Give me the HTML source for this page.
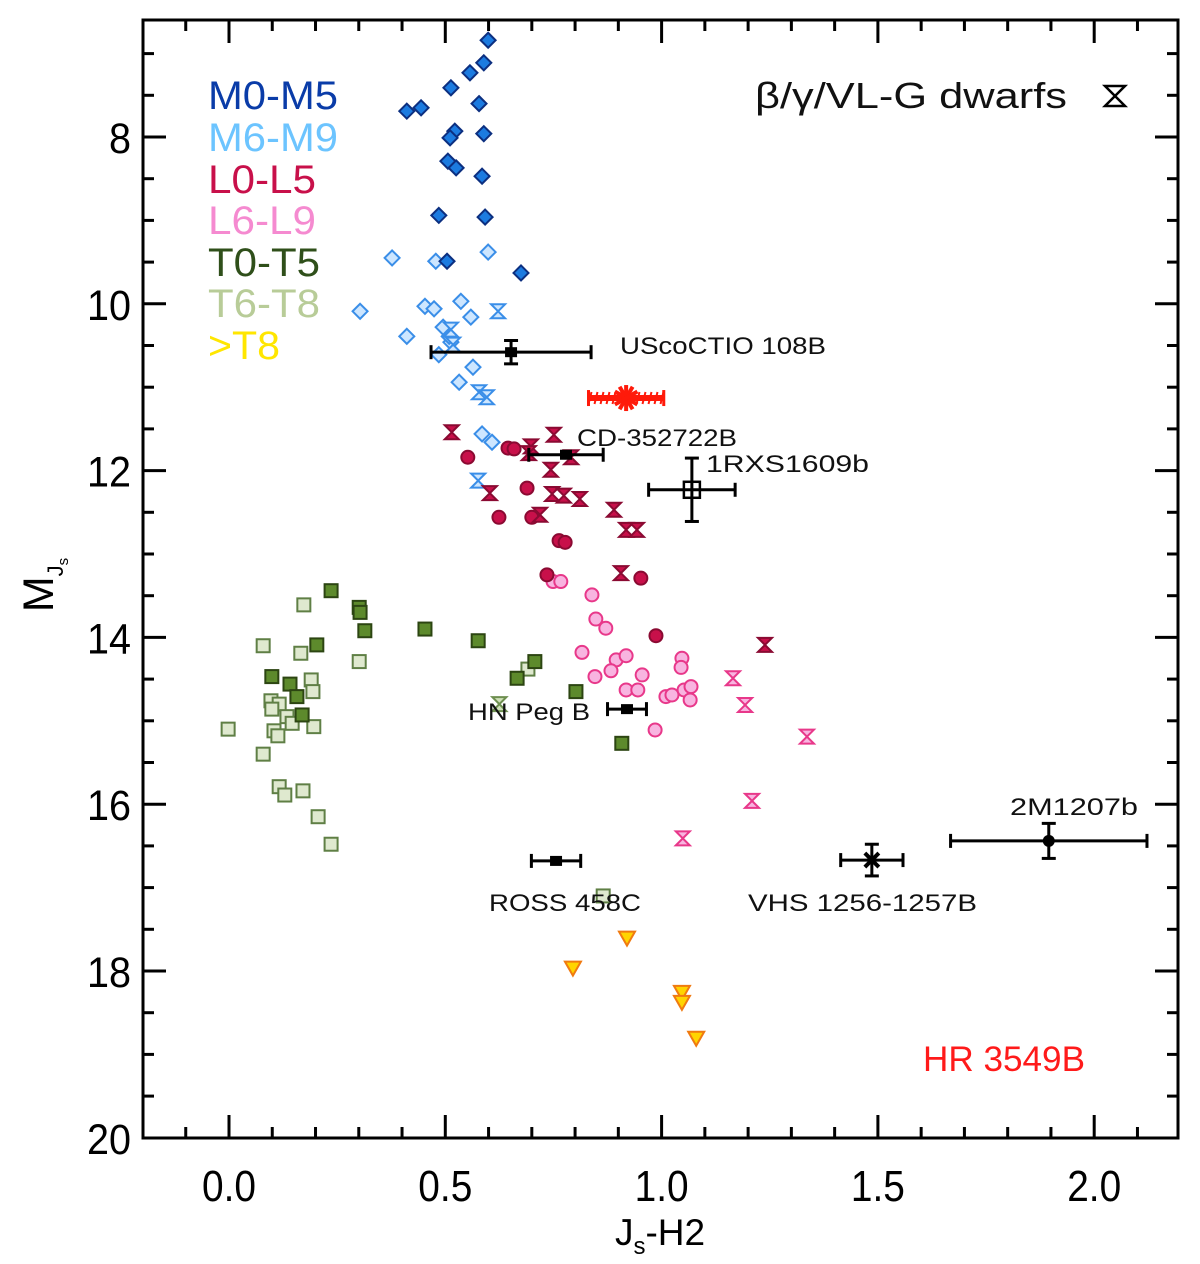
<!DOCTYPE html>
<html><head><meta charset="utf-8">
<style>
html,body{margin:0;padding:0;background:#fff;}
svg{display:block;font-family:"Liberation Sans",Arial,sans-serif;}
</style></head>
<body>
<svg id="chart" width="1200" height="1264" viewBox="0 0 1200 1264" xmlns="http://www.w3.org/2000/svg">
<g id="marks"></g>
<g id="axes"></g>
<g font-size="40" lengthAdjust="spacingAndGlyphs">
  <text x="208" y="109" fill="#0a3ca8" textLength="130" lengthAdjust="spacingAndGlyphs">M0-M5</text>
  <text x="208" y="151" fill="#6cc4ff" textLength="130" lengthAdjust="spacingAndGlyphs">M6-M9</text>
  <text x="208" y="193" fill="#c8104a" textLength="108" lengthAdjust="spacingAndGlyphs">L0-L5</text>
  <text x="208" y="234" fill="#f58ad0" textLength="108" lengthAdjust="spacingAndGlyphs">L6-L9</text>
  <text x="208" y="276" fill="#2f4f1a" textLength="112" lengthAdjust="spacingAndGlyphs">T0-T5</text>
  <text x="208" y="317" fill="#b8cc98" textLength="112" lengthAdjust="spacingAndGlyphs">T6-T8</text>
  <text x="208" y="359" fill="#ffe600" textLength="72" lengthAdjust="spacingAndGlyphs">&gt;T8</text>
  <text x="755" y="108" fill="#111" font-size="36" textLength="312" lengthAdjust="spacingAndGlyphs">β/γ/VL-G dwarfs</text>
  <path d="M1105,86 L1125,86 L1105,106 L1125,106 Z" fill="none" stroke="#000" stroke-width="2.5"/>
</g>
<g font-size="24" fill="#111">
  <text x="620" y="354" textLength="206" lengthAdjust="spacingAndGlyphs">UScoCTIO 108B</text>
  <text x="577" y="446" textLength="160" lengthAdjust="spacingAndGlyphs">CD-352722B</text>
  <text x="706" y="472" textLength="163" lengthAdjust="spacingAndGlyphs">1RXS1609b</text>
  <text x="468" y="720" textLength="122" lengthAdjust="spacingAndGlyphs">HN Peg B</text>
  <text x="1010" y="815" textLength="128" lengthAdjust="spacingAndGlyphs">2M1207b</text>
  <text x="489" y="911" textLength="152" lengthAdjust="spacingAndGlyphs">ROSS 458C</text>
  <text x="748" y="911" textLength="229" lengthAdjust="spacingAndGlyphs">VHS 1256-1257B</text>
  <text x="923" y="1071" font-size="35" fill="#ff1a1a" textLength="162" lengthAdjust="spacingAndGlyphs">HR 3549B</text>
</g>
</svg>
<script>
// ---- data (x = Js-H2, y = M_Js) ----
const m05X=[0.599,0.589,0.557,0.513,0.411,0.444,0.578,0.522,0.511,0.589,0.506,0.525,0.585,0.485,0.592,0.504,0.675];
const m05Y=[6.84,7.11,7.23,7.41,7.69,7.65,7.60,7.93,8.01,7.96,8.29,8.37,8.47,8.94,8.96,9.49,9.63];
const m69X=[0.377,0.478,0.599,0.303,0.453,0.474,0.536,0.559,0.411,0.513,0.509,0.485,0.564,0.532,0.495,0.585,0.608];
const m69Y=[9.45,9.49,9.38,10.09,10.03,10.06,9.97,10.16,10.39,10.46,10.39,10.61,10.76,10.94,10.28,11.56,11.66];
const mYoungX=[0.622,0.513,0.518,0.578,0.596,0.576];
const mYoungY=[10.09,10.31,10.49,11.06,11.12,12.12];
const l05X=[0.552,0.645,0.659,0.689,0.624,0.700,0.763,0.777,0.735,0.952,0.987];
const l05Y=[11.84,11.73,11.74,12.21,12.56,12.56,12.84,12.86,13.25,13.29,13.98];
const l05YoungX=[0.515,0.698,0.751,0.693,0.791,0.744,0.603,0.747,0.774,0.811,0.890,0.719,0.918,0.943,0.906,1.239];
const l05YoungY=[11.54,11.71,11.57,11.79,11.84,11.99,12.27,12.28,12.30,12.34,12.47,12.53,12.71,12.71,13.23,14.09];
const l69X=[0.749,0.767,0.839,0.848,0.871,0.816,0.895,0.918,0.883,0.846,0.955,1.047,1.045,0.918,0.945,1.010,1.024,1.052,1.068,1.066,0.985];
const l69Y=[13.33,13.33,13.49,13.78,13.89,14.18,14.27,14.22,14.40,14.47,14.45,14.25,14.36,14.63,14.63,14.71,14.69,14.63,14.59,14.75,15.11];
const l69YoungX=[1.165,1.193,1.336,1.209,1.049];
const l69YoungY=[14.49,14.81,15.19,15.96,16.41];
const t05X=[0.236,0.301,0.303,0.314,0.203,0.099,0.141,0.157,0.169,0.453,0.576,0.707,0.666,0.802,0.908];
const t05Y=[13.44,13.64,13.70,13.92,14.09,14.47,14.56,14.71,14.93,13.90,14.04,14.29,14.49,14.65,15.27];
const t68X=[0.173,0.079,0.166,0.301,0.190,0.194,0.097,0.116,0.099,0.134,0.146,0.104,0.113,0.196,-0.002,0.079,0.116,0.129,0.171,0.206,0.236,0.691,0.865];
const t68Y=[13.61,14.10,14.19,14.29,14.51,14.65,14.76,14.80,14.86,14.95,15.03,15.12,15.18,15.07,15.10,15.40,15.79,15.89,15.84,16.15,16.48,14.38,17.10];
const t8X=[0.920,0.795,1.047,1.047,1.080];
const t8Y=[17.60,17.96,18.25,18.37,18.80];
const namedX=[0.652,0.779,1.070,0.920,0.756,1.486,1.895];
const namedY=[10.58,11.81,12.23,14.86,16.68,16.67,16.44];
const namedXErr=[0.185,0.086,0.100,0.045,0.057,0.072,0.227];
const namedYErr=[0.14,0.05,0.38,0.03,0.03,0.19,0.21];
const namedKind=["sq","sq","open","sq","sq","cross","circ"];
const hrX=[0.918], hrY=[11.13], hrXErr=[0.087];
const xTicks=[0.0,0.5,1.0,1.5,2.0];
const xTickLabels=["0.0","0.5","1.0","1.5","2.0"];
const yTicks=[8,10,12,14,16,18,20];
const yTickLabels=["8","10","12","14","16","18","20"];

// ---- axes ----
const L=143,R=1178,T=20,B=1138;
const sx=v=>229+v*432.6;
const sy=v=>137+(v-8)*83.4;
const NS="http://www.w3.org/2000/svg";
const marks=document.getElementById('marks'), axes=document.getElementById('axes');
function mk(tag,attrs,parent){const e=document.createElementNS(NS,tag);for(const k in attrs)e.setAttribute(k,attrs[k]);parent.appendChild(e);return e;}

function diamond(x,y,fill,stroke,name){const s=7.5;const e=mk('path',{d:`M${x},${y-s}L${x+s},${y}L${x},${y+s}L${x-s},${y}Z`,fill:fill,stroke:stroke,'stroke-width':2},marks);

}
function circle(x,y,fill,stroke,name){const e=mk('circle',{cx:x,cy:y,r:6.5,fill:fill,stroke:stroke,'stroke-width':2},marks);

}
function square(x,y,fill,stroke,name){const e=mk('rect',{x:x-6.5,y:y-6.5,width:13,height:13,fill:fill,stroke:stroke,'stroke-width':2},marks);

}
function hourglass(x,y,fill,stroke,name){const w=7,h=7;const e=mk('path',{d:`M${x-w},${y-h}L${x+w},${y-h}L${x-w},${y+h}L${x+w},${y+h}Z`,fill:fill,stroke:stroke,'stroke-width':2},marks);

}
function tri(x,y,name){const e=mk('path',{d:`M${x-8},${y-6}L${x+8},${y-6}L${x},${y+8}Z`,fill:'#ffd400',stroke:'#f07a10','stroke-width':2},marks);

}

t68X.forEach((v,i)=>square(sx(v),sy(t68Y[i]),'#dfe9cf','#5f7f45','t6-t8-point'));
t05X.forEach((v,i)=>square(sx(v),sy(t05Y[i]),'#5d8a2c','#2c4512','t0-t5-point'));
hourglass(sx(0.625),sy(14.80),'#cfe0b8','#6e8f50','t-young-point');
m69X.forEach((v,i)=>diamond(sx(v),sy(m69Y[i]),'#cde6ff','#3a8ee8','m6-m9-point'));
mYoungX.forEach((v,i)=>hourglass(sx(v),sy(mYoungY[i]),'#cde6ff','#3a8ee8','m-young-point'));
m05X.forEach((v,i)=>diamond(sx(v),sy(m05Y[i]),'#1c7be0','#0c2f80','m0-m5-point'));
l69X.forEach((v,i)=>circle(sx(v),sy(l69Y[i]),'#f8b4e0','#e8388a','l6-l9-point'));
l69YoungX.forEach((v,i)=>hourglass(sx(v),sy(l69YoungY[i]),'#f8b4e0','#e8388a','l6-l9-young-point'));
l05X.forEach((v,i)=>circle(sx(v),sy(l05Y[i]),'#c8104a','#8a0a32','l0-l5-point'));
l05YoungX.forEach((v,i)=>hourglass(sx(v),sy(l05YoungY[i]),'#c8104a','#8a0a32','l0-l5-young-point'));
t8X.forEach((v,i)=>tri(sx(v),sy(t8Y[i]),'gt-t8-point'));

namedX.forEach((v,i)=>{
  const x=sx(v),y=sy(namedY[i]);
  const x1=sx(v-namedXErr[i]),x2=sx(v+namedXErr[i]);
  const y1=sy(namedY[i]-namedYErr[i]),y2=sy(namedY[i]+namedYErr[i]);
  const g=mk('g',{stroke:'#000','stroke-width':3,fill:'none'},marks);
  
  
  mk('line',{x1:x1,y1:y,x2:x2,y2:y},g);
  mk('line',{x1:x1,y1:y-7,x2:x1,y2:y+7},g);
  mk('line',{x1:x2,y1:y-7,x2:x2,y2:y+7},g);
  if(namedYErr[i]>0.06){mk('line',{x1:x,y1:y1,x2:x,y2:y2},g);
    mk('line',{x1:x-7,y1:y1,x2:x+7,y2:y1},g);mk('line',{x1:x-7,y1:y2,x2:x+7,y2:y2},g);}
  const k=namedKind[i];
  if(k==='sq')mk('rect',{x:x-6,y:y-5,width:12,height:10,fill:'#000',stroke:'none'},g);
  else if(k==='open')mk('rect',{x:x-8,y:y-8,width:16,height:16,fill:'none','stroke-width':2.5},g);
  else if(k==='circ')mk('circle',{cx:x,cy:y,r:6,fill:'#000',stroke:'none'},g);
  else mk('path',{d:`M${x-7},${y-7}L${x+7},${y+7}M${x+7},${y-7}L${x-7},${y+7}`,'stroke-width':4},g);
});
hrX.forEach((v,i)=>{
  const x=sx(v),y=sy(hrY[i]);
  const g=mk('g',{stroke:'#ff1a0a',fill:'#ff1a0a'},marks);
  
  
  const x1=sx(v-hrXErr[i]),x2=sx(v+hrXErr[i]);
  mk('line',{x1:x1,y1:y,x2:x2,y2:y,'stroke-width':6},g);
  for(let xx=x1+3;xx<x2;xx+=6)mk('line',{x1:xx,y1:y-6,x2:xx-3,y2:y+6,'stroke-width':2},g);
  mk('line',{x1:x1,y1:y-8,x2:x1,y2:y+8,'stroke-width':3},g);
  mk('line',{x1:x2,y1:y-8,x2:x2,y2:y+8,'stroke-width':3},g);
  for(let a=0;a<180;a+=30){const r=13,c=Math.cos(a*Math.PI/180)*r,s=Math.sin(a*Math.PI/180)*r;
    mk('line',{x1:x-c,y1:y-s,x2:x+c,y2:y+s,'stroke-width':4},g);}
});

const fr=mk('rect',{x:L,y:T,width:R-L,height:B-T,fill:'none',stroke:'#000','stroke-width':3},axes);


for(let k=-2;k<=21;k++){const v=k/10;const x=sx(v);if(x<L+2||x>R-2)continue;
  const len=(k%5===0)?23:11;
  mk('line',{x1:x,y1:B,x2:x,y2:B-len,stroke:'#000','stroke-width':3},axes);
  mk('line',{x1:x,y1:T,x2:x,y2:T+len,stroke:'#000','stroke-width':3},axes);}
for(let k=14;k<=40;k++){const v=k/2;const y=sy(v);if(y<T+2||y>B-2)continue;
  const len=(k%4===0)?23:11;
  mk('line',{x1:L,y1:y,x2:L+len,y2:y,stroke:'#000','stroke-width':3},axes);
  mk('line',{x1:R,y1:y,x2:R-len,y2:y,stroke:'#000','stroke-width':3},axes);}
xTicks.forEach((v,i)=>{const t=mk('text',{x:sx(v)-27,y:1201,'font-size':44,fill:'#000',textLength:54,lengthAdjust:'spacingAndGlyphs'},axes);t.textContent=xTickLabels[i];
  
  });
yTicks.forEach((v,i)=>{const w=yTickLabels[i].length===1?22:44;const t=mk('text',{x:131-w,y:sy(v)+16,'font-size':43,fill:'#000',textLength:w,lengthAdjust:'spacingAndGlyphs'},axes);t.textContent=yTickLabels[i];
  
  });
const xt=mk('text',{x:660,y:1245,'text-anchor':'middle','font-size':37,fill:'#000'},axes);


xt.innerHTML='J<tspan font-size="24" dy="9">s</tspan><tspan dy="-9">-H2</tspan>';
const yt=mk('text',{x:0,y:0,'text-anchor':'middle','font-size':43,fill:'#000',transform:'translate(53,585) rotate(-90)'},axes);


yt.innerHTML='M<tspan font-size="22" dy="10">J</tspan><tspan font-size="15" dy="5">s</tspan>';
</script>
</body></html>
